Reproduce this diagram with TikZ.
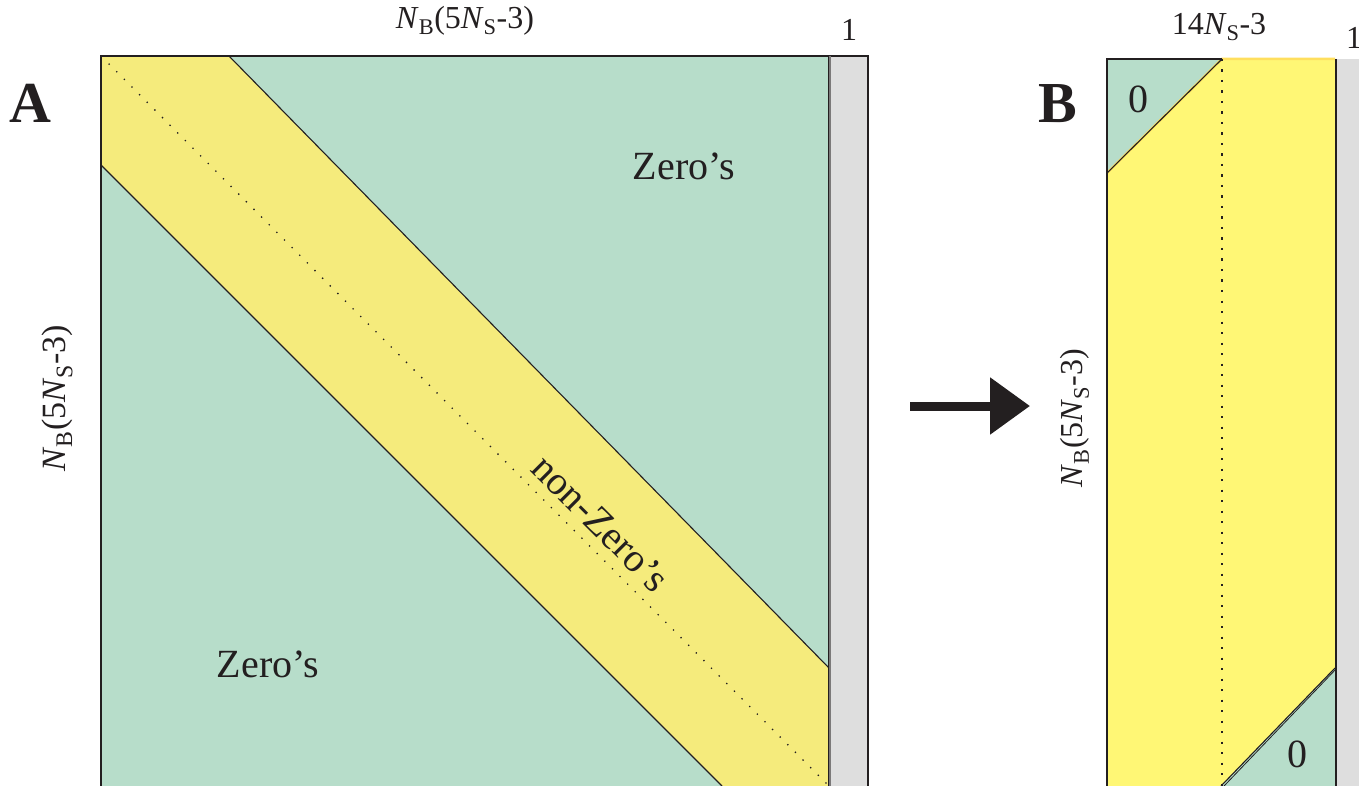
\documentclass[tikz,border=0pt]{standalone}
\usepackage{fontspec}
\setmainfont{Liberation Serif}
\usetikzlibrary{arrows.meta}
\definecolor{zgreen}{HTML}{B7DDCA}
\definecolor{ayellow}{HTML}{F5EB7C}
\definecolor{byellow}{HTML}{FFF775}
\definecolor{cgray}{HTML}{DEDEDE}
\definecolor{ink}{HTML}{231F20}
\tikzset{
  edge/.style={draw=ink, line width=1.1pt, line join=miter},
  dotline/.style={draw=ink, line width=1.3pt, dash pattern=on 1.3pt off 9.5pt},
  vdotline/.style={draw=ink, line width=1.3pt, dash pattern=on 2.2pt off 8.3pt},
  lbl/.style={text=ink, inner sep=0pt, font=\fontsize{32}{36}\selectfont},
  biglbl/.style={text=ink, inner sep=0pt, font=\fontsize{34}{38}\selectfont},
  big/.style={text=ink, inner sep=0pt, font=\fontsize{40}{46}\selectfont},
  panel/.style={text=ink, inner sep=0pt, font=\fontsize{58}{64}\selectfont\bfseries},
}
\begin{document}
\begin{tikzpicture}[x=1pt,y=-1pt]
\useasboundingbox (0,0) rectangle (1359,786);
% ---------- Panel A ----------
\coordinate (A1) at (101,56);
\coordinate (A2) at (229,56);
\coordinate (A3) at (829,56);
\coordinate (A4) at (829,668);
\coordinate (A5) at (829,786);
\coordinate (A6) at (722,786);
\coordinate (A7) at (101,786);
\coordinate (A8) at (101,165);
\fill[ayellow] (A1) -- (A2) -- (A4) -- (A5) -- (A6) -- (A8) -- cycle;
\fill[zgreen] (A2) -- (A3) -- (A4) -- cycle;
\fill[zgreen] (A8) -- (A6) -- (A7) -- cycle;
\draw[edge] (A7) -- (A1) -- (A3) -- (A5);
\draw[edge] (A2) -- (A4);
\draw[edge] (A8) -- (A6);
\draw[dotline] (A1) -- (A5);
% gray column A
\coordinate (G1) at (830,56);
\coordinate (G2) at (868,786);
\fill[cgray] (G1) rectangle (G2);
\draw[edge] (830,786) -- (G1) -- (868,56) -- (G2);
\draw[draw=ink!60, line width=2pt] (830,56) -- (830,786);
% labels A
\node[panel] (labA) at (30,103) {A};
\node[lbl] (topA) at (465,21) {\textit{N}\textsubscript{B}(5\textit{N}\textsubscript{S}-3)};
\node[lbl] (oneA) at (849,30) {1};
\node[biglbl, rotate=90] (leftA) at (57,398) {\textit{N}\textsubscript{B}(5\textit{N}\textsubscript{S}-3)};
\node[big] (zeroUp) at (684,166) {Zero’s};
\node[big] (zeroLo) at (268,664) {Zero’s};
\node[big, rotate=-45] (nonzero) at (601,523) {non-Zero’s};
% ---------- Arrow ----------
\coordinate (arrS) at (910,406);
\coordinate (arrE) at (1030,406);
\draw[ink, line width=9pt, -{Triangle[length=40pt,width=55pt]}] (arrS) -- (arrE);
% ---------- Panel B ----------
\coordinate (B1) at (1107,59);
\coordinate (B2) at (1222,59);
\coordinate (B3) at (1335,59);
\coordinate (B4) at (1335,668);
\coordinate (B5) at (1335,786);
\coordinate (B6) at (1221,786);
\coordinate (B7) at (1107,786);
\coordinate (B8) at (1107,173);
\fill[byellow] (B2) -- (B3) -- (B4) -- (B6) -- (B7) -- (B8) -- cycle;
\fill[zgreen] (B1) -- (B2) -- (B8) -- cycle;
\fill[zgreen] (B4) -- (B5) -- (B6) -- cycle;
\draw[byellow!80!orange, line width=2.5pt] (B8) -- (B2) -- (B3);
\draw[edge] (B7) -- (B1) -- (B2);
\draw[edge] (B8) -- (B2);
\draw[edge] (B4) -- (B6);
\draw[edge, line width=0.8pt] ([xshift=2pt]B4) -- ([xshift=3pt]B6);
\draw[vdotline] (B2) -- (1222,786);
% gray column B
\coordinate (H1) at (1336,59);
\coordinate (H2) at (1359,786);
\fill[cgray] (H1) rectangle (H2);
\draw[edge] (1336,59) -- (1336,786);
% labels B
\node[panel] (labB) at (1058,104) {B};
\node[lbl] (topB) at (1219,27) {14\textit{N}\textsubscript{S}-3};
\node[lbl] (oneB) at (1354,38) {1};
\node[lbl, rotate=90] (leftB) at (1075,418) {\textit{N}\textsubscript{B}(5\textit{N}\textsubscript{S}-3)};
\node[big] (zB1) at (1138,99) {0};
\node[big] (zB2) at (1297,754) {0};
\end{tikzpicture}
\end{document}
